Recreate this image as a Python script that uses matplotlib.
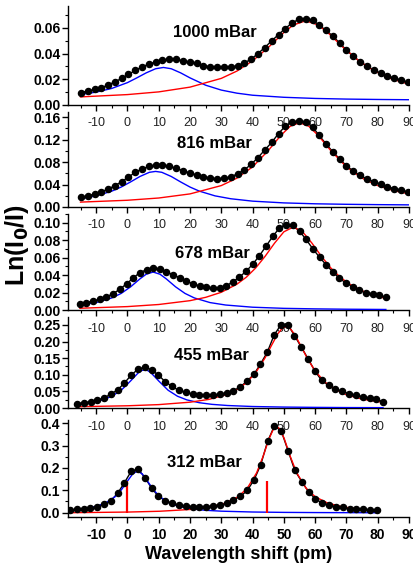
import numpy as np
import matplotlib
matplotlib.use("Agg")
import matplotlib.pyplot as plt
from matplotlib.ticker import MultipleLocator, FormatStrFormatter

plt.rcParams['font.family'] = ['Liberation Sans', 'DejaVu Sans']
plt.rcParams['axes.unicode_minus'] = False

# ---- data ----
labels = ['1000 mBar', '816 mBar', '678 mBar', '455 mBar', '312 mBar']

x_1000 = [-14.9, -12.7, -10.5, -8.4, -6.2, -4.0, -1.8, 0.3, 2.5, 4.7, 6.9, 9.1, 11.2, 13.4, 15.6, 17.8, 20.0,
          22.1, 24.3, 26.5, 28.7, 30.8, 33.0, 35.2, 37.4, 39.6, 41.7, 43.9, 46.1, 48.3, 50.4, 52.6, 54.8, 57.0,
          59.2, 61.3, 63.5, 65.7, 67.9, 70.0, 72.2, 74.4, 76.6, 78.8, 80.9, 83.1, 85.3, 87.5, 89.6]
y_1000 = [0.0096, 0.0109, 0.0121, 0.0134, 0.0155, 0.0181, 0.0207, 0.0238, 0.0269, 0.0297, 0.0318, 0.0336,
          0.0349, 0.0359, 0.0354, 0.0344, 0.0333, 0.0323, 0.0307, 0.0297, 0.0292, 0.0292, 0.0295, 0.0305,
          0.0328, 0.0357, 0.0400, 0.0447, 0.0499, 0.0548, 0.0594, 0.0638, 0.0667, 0.0672, 0.0659, 0.0620,
          0.0580, 0.0535, 0.0480, 0.0426, 0.0380, 0.0336, 0.0302, 0.0271, 0.0248, 0.0227, 0.0209, 0.0194, 0.0176]
blue_x_1000 = [-15, -10, -5, 0, 3, 6, 9, 11.5, 14, 17, 20, 25, 30, 35, 40, 50, 60, 70, 80, 90]
blue_y_1000 = [0.0082, 0.0100, 0.0129, 0.0174, 0.0211, 0.0250, 0.0282, 0.0292, 0.0282, 0.0250, 0.0211,
               0.0154, 0.0116, 0.0092, 0.0076, 0.0060, 0.0051, 0.0046, 0.0043, 0.0041]
red_x_1000 = [-15, 0, 10, 20, 30, 35, 40, 45, 50, 53, 57, 61, 64, 69, 74, 79, 84, 90]
red_y_1000 = [0.0063, 0.0081, 0.0102, 0.0139, 0.0207, 0.0264, 0.0343, 0.0447, 0.0564, 0.0622, 0.0655,
              0.0622, 0.0564, 0.0447, 0.0343, 0.0264, 0.0207, 0.0161]

x_816 = x_1000
y_816 = [0.0170, 0.0199, 0.0229, 0.0270, 0.0317, 0.0381, 0.0451, 0.0533, 0.0615, 0.0680, 0.0721, 0.0744,
         0.0744, 0.0721, 0.0686, 0.0645, 0.0604, 0.0569, 0.0539, 0.0516, 0.0504, 0.0510, 0.0533, 0.0592,
         0.0662, 0.0762, 0.0879, 0.1014, 0.1149, 0.1307, 0.1436, 0.1506, 0.1536, 0.1506, 0.1424, 0.1272,
         0.1120, 0.0979, 0.0850, 0.0733, 0.0639, 0.0563, 0.0498, 0.0451, 0.0404, 0.0358, 0.0328, 0.0299, 0.0270]
blue_x_816 = [-15, -10, -5, -2, 1, 4, 7, 9, 11, 14, 17, 20, 23, 28, 33, 40, 50, 60, 70, 80, 90]
blue_y_816 = [0.0147, 0.0198, 0.0282, 0.0355, 0.0446, 0.0543, 0.0617, 0.0633, 0.0617, 0.0543, 0.0446,
              0.0355, 0.0282, 0.0198, 0.0147, 0.0104, 0.0073, 0.0057, 0.0048, 0.0042, 0.0038]
red_x_816 = [-15, 0, 10, 20, 30, 35, 40, 45, 49, 52, 55, 58, 61, 65, 70, 75, 80, 85, 90]
red_y_816 = [0.0087, 0.0120, 0.0160, 0.0233, 0.0381, 0.0513, 0.0714, 0.1003, 0.1272, 0.1435, 0.1500,
             0.1435, 0.1272, 0.1003, 0.0714, 0.0513, 0.0381, 0.0293, 0.0233]

x_678 = [-15.2, -13.1, -10.9, -8.8, -6.7, -4.6, -2.4, -0.3, 1.8, 3.9, 6.1, 8.2, 10.3, 12.4, 14.6, 16.7,
         18.8, 21.0, 23.1, 25.2, 27.3, 29.5, 31.6, 33.7, 35.8, 38.0, 40.1, 42.2, 44.3, 46.5, 48.6, 50.7,
         52.8, 55.0, 57.1, 59.2, 61.4, 63.5, 65.6, 67.7, 69.9, 72.0, 74.1, 76.2, 78.4, 80.5, 82.6]
y_678 = [0.0069, 0.0085, 0.0104, 0.0123, 0.0150, 0.0188, 0.0238, 0.0300, 0.0365, 0.0427, 0.0462, 0.0485,
         0.0469, 0.0438, 0.0404, 0.0369, 0.0331, 0.0300, 0.0273, 0.0258, 0.0250, 0.0254, 0.0277, 0.0323,
         0.0377, 0.0446, 0.0527, 0.0623, 0.0731, 0.0846, 0.0940, 0.0975, 0.0970, 0.0904, 0.0808, 0.0704,
         0.0604, 0.0519, 0.0438, 0.0365, 0.0308, 0.0269, 0.0231, 0.0200, 0.0185, 0.0169, 0.0146]
blue_x_678 = [-15.2, -10, -5, -2, 1, 4, 6, 8.2, 10.4, 12.4, 15.4, 18.4, 21.4, 26.4, 31.4, 40, 50, 60, 70, 82.6]
blue_y_678 = [0.0057, 0.0085, 0.0138, 0.0190, 0.0265, 0.0357, 0.0410, 0.0435, 0.0410, 0.0357, 0.0265,
              0.0190, 0.0138, 0.0085, 0.0057, 0.0032, 0.0019, 0.0013, 0.0009, 0.0006]
red_x_678 = [-15.2, 0, 10, 20, 25, 30, 35, 38, 41, 44, 47, 50, 53, 56, 59, 62, 65, 68, 71, 76, 82.6]
red_y_678 = [0.0020, 0.0039, 0.0063, 0.0107, 0.0145, 0.0203, 0.0296, 0.0376, 0.0482, 0.0615, 0.0765,
             0.0896, 0.0950, 0.0896, 0.0765, 0.0615, 0.0482, 0.0376, 0.0296, 0.0203, 0.0131]

x_455 = [-16.2, -14.0, -11.8, -9.7, -7.5, -5.3, -3.1, -1.0, 1.2, 3.4, 5.6, 7.7, 9.9, 12.1, 14.3, 16.4,
         18.6, 20.8, 23.0, 25.1, 27.3, 29.5, 31.7, 33.8, 36.0, 38.2, 40.4, 42.5, 44.7, 46.9, 49.1, 51.3,
         53.4, 55.6, 57.8, 60.0, 62.1, 64.3, 66.5, 68.7, 70.8, 73.0, 75.2, 77.4, 79.5, 81.7]
y_455 = [0.013, 0.016, 0.019, 0.024, 0.030, 0.042, 0.055, 0.075, 0.099, 0.117, 0.123, 0.115, 0.099, 0.079,
         0.065, 0.053, 0.047, 0.042, 0.039, 0.038, 0.039, 0.041, 0.046, 0.052, 0.063, 0.081, 0.101, 0.132,
         0.168, 0.220, 0.251, 0.251, 0.218, 0.183, 0.147, 0.110, 0.083, 0.068, 0.057, 0.050, 0.043, 0.038,
         0.034, 0.030, 0.026, 0.019]
blue_x_455 = [-16.2, -12, -8, -5, -2, 1, 3.5, 4.5, 5.5, 6.5, 7.5, 10, 13, 16, 19, 23, 27, 32, 40, 50, 60, 70, 81.7]
blue_y_455 = [0.0108, 0.0159, 0.0244, 0.0354, 0.0535, 0.0814, 0.1063, 0.1127, 0.1150, 0.1127, 0.1063,
              0.0814, 0.0535, 0.0354, 0.0244, 0.0159, 0.0110, 0.0075, 0.0045, 0.0028, 0.0019, 0.0013, 0.0010]
red_x_455 = [-16.2, 0, 10, 20, 26, 31, 35, 38, 41, 44, 46, 48, 49.5, 50.7, 52, 53.5, 55.5, 57.5, 60, 63,
             66, 70, 75, 81.7]
red_y_455 = [0.0039, 0.0067, 0.0102, 0.0175, 0.0259, 0.0385, 0.0555, 0.0758, 0.1064, 0.1511, 0.1876,
             0.2226, 0.2402, 0.2450, 0.2394, 0.2210, 0.1858, 0.1494, 0.1115, 0.0792, 0.0578, 0.0398,
             0.0267, 0.0171]

x_312 = [-18.4, -16.2, -14.0, -11.9, -9.7, -7.5, -5.3, -3.1, -1.0, 1.2, 3.4, 5.6, 7.8, 9.9, 12.1, 14.3,
         16.5, 18.7, 20.8, 23.0, 25.2, 27.4, 29.6, 31.7, 33.9, 36.1, 38.3, 40.5, 42.6, 44.8, 47.0, 49.2,
         51.4, 53.5, 55.7, 57.9, 60.1, 62.3, 64.4, 66.6, 68.8, 71.0, 73.2, 75.3, 77.5, 79.7]
y_312 = [0.011, 0.014, 0.017, 0.020, 0.027, 0.038, 0.053, 0.087, 0.133, 0.185, 0.195, 0.156, 0.108, 0.073,
         0.053, 0.041, 0.034, 0.029, 0.027, 0.026, 0.027, 0.029, 0.035, 0.043, 0.058, 0.072, 0.099, 0.147,
         0.214, 0.319, 0.389, 0.365, 0.275, 0.189, 0.139, 0.093, 0.060, 0.043, 0.034, 0.026, 0.023, 0.018,
         0.015, 0.014, 0.012, 0.012]
blue_x_312 = [-18.4, -14, -10, -7, -4, -2, 0, 1.7, 3.2, 4.7, 6.4, 8.4, 10.4, 13.4, 16.4, 20.4, 24.8, 30,
              40, 50, 60, 79.6]
blue_y_312 = [0.0102, 0.0166, 0.0276, 0.0427, 0.0704, 0.1006, 0.1410, 0.1738, 0.1860, 0.1738, 0.1410,
              0.1006, 0.0704, 0.0427, 0.0276, 0.0166, 0.0102, 0.0061, 0.0024, 0.0007, -0.0001, -0.0010]
red_x_312 = [-18.4, 0.3, 10.3, 20.3, 26.3, 31.3, 35.3, 38.3, 41.3, 43.3, 45.3, 46.7, 47.7, 48.7, 50.1,
             52.1, 54.1, 57.1, 60.1, 64.1, 69.1, 75.1, 79.6]
red_y_312 = [-0.0008, 0.0022, 0.0058, 0.0139, 0.0244, 0.0420, 0.0700, 0.1089, 0.1784, 0.2496, 0.3322,
             0.3755, 0.3860, 0.3755, 0.3322, 0.2496, 0.1784, 0.1089, 0.0700, 0.0420, 0.0244, 0.0139, 0.0093]

stick_x = [0, 44.7]
stick_h = [0.143, 0.143]

# y axis settings per panel: (ylim, major step, minor step, format)
y_setup = [((0, 0.077), 0.02, 0.01, '%.2f'),
           ((0, 0.169), 0.04, 0.02, '%.2f'),
           ((0, 0.110), 0.02, 0.01, '%.2f'),
           ((0, 0.274), 0.05, 0.025, '%.2f'),
           ((-0.02, 0.415), 0.1, 0.05, '%.1f')]

panels = [(x_1000, y_1000, blue_x_1000, blue_y_1000, red_x_1000, red_y_1000),
          (x_816, y_816, blue_x_816, blue_y_816, red_x_816, red_y_816),
          (x_678, y_678, blue_x_678, blue_y_678, red_x_678, red_y_678),
          (x_455, y_455, blue_x_455, blue_y_455, red_x_455, red_y_455),
          (x_312, y_312, blue_x_312, blue_y_312, red_x_312, red_y_312)]

# pixel boxes (top, bottom) of each panel
H = 570.0
boxes = [(6, 105), (112, 207), (214, 310), (317, 408), (420, 517)]
label_pos = [(0.43, 0.73), (0.43, 0.67), (0.425, 0.59), (0.42, 0.58), (0.40, 0.56)]

fig = plt.figure(figsize=(4.14, 5.70), dpi=100)
left = 68 / 414.0
width = (409 - 68) / 414.0

for k in range(5):
    top, bot = boxes[k]
    ax = fig.add_axes([left, 1 - bot / H, width, (bot - top) / H])
    ax.set_facecolor('none')
    xd, yd, bx, by, rx, ry = panels[k]

    ax.plot(xd, yd, color='black', lw=1.0, zorder=2)
    ax.plot(bx, by, color='#0000ff', lw=1.0, zorder=3)
    ax.plot(rx, ry, color='#ff0000', lw=1.0, zorder=3)
    ax.plot(xd, yd, 'o', color='black', ms=4.4, mec='black', zorder=4)
    if k == 4:
        ax.vlines(stick_x, 0, stick_h, color='#ff0000', lw=1.6, zorder=3)

    ax.set_xlim(-19, 90)
    ylim, maj, mnr, fmt = y_setup[k]
    ax.set_ylim(*ylim)
    ax.yaxis.set_major_locator(MultipleLocator(maj))
    ax.yaxis.set_minor_locator(MultipleLocator(mnr))
    ax.yaxis.set_major_formatter(FormatStrFormatter(fmt))
    ax.xaxis.set_major_locator(MultipleLocator(10))
    ax.xaxis.set_minor_locator(MultipleLocator(5))

    for s in ['top', 'right']:
        ax.spines[s].set_visible(False)
    for s in ['left', 'bottom']:
        ax.spines[s].set_linewidth(1.0)

    ax.tick_params(axis='both', which='major', direction='out', length=4, width=1.0)
    ax.tick_params(axis='both', which='minor', direction='out', length=2.5, width=0.8)
    ax.tick_params(axis='y', pad=1.5)
    ax.tick_params(axis='x', pad=4 if k == 4 else 5)
    for t in ax.get_yticklabels():
        t.set_fontsize(10)
        t.set_fontweight('bold')
    for t in ax.get_xticklabels():
        if k == 4:
            t.set_fontsize(10)
            t.set_fontweight('bold')
        else:
            t.set_fontsize(9)
            t.set_color('#222222')

    ax.text(label_pos[k][0], label_pos[k][1], labels[k], transform=ax.transAxes,
            ha='center', va='center', fontsize=12, fontweight='bold')

fig.text(0.042, 0.57, r'Ln(I$_\mathbf{0}$/I)', rotation=90, ha='center', va='center',
         fontsize=18, fontweight='bold')
fig.text(0.576, 0.027, 'Wavelength shift (pm)', ha='center', va='center',
         fontsize=13, fontweight='bold')

fig.savefig('out.png', dpi=100)
